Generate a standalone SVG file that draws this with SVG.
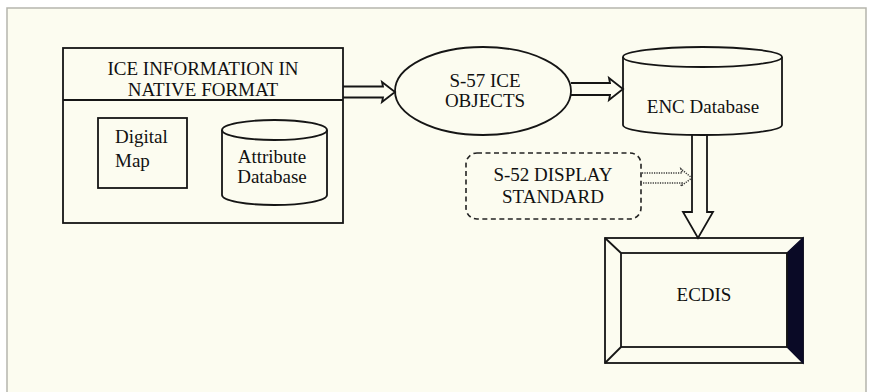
<svg xmlns="http://www.w3.org/2000/svg" width="870" height="392" viewBox="0 0 870 392">
<defs>
<style>
.s{fill:none;stroke:#151515;stroke-width:1.8}
.f{fill:#fcfcf0;stroke:#151515;stroke-width:1.8}
.t{font-family:"Liberation Serif","Times New Roman",serif;font-size:19px;fill:#111;text-anchor:middle}
.l{text-anchor:start}
.d{fill:none;stroke:#333;stroke-width:1.5;stroke-dasharray:1.2 1.2}
</style>
</defs>
<rect x="0" y="0" width="870" height="392" fill="#ffffff"/>
<rect x="7" y="8" width="859" height="390" fill="#fcfcf0" stroke="#b5b5ad" stroke-width="1.5"/>

<g id="ice-info">
<rect class="f" x="63" y="48" width="280" height="175"/>
<line class="s" x1="63" y1="100" x2="343" y2="100"/>
<text class="t" x="203" y="75">ICE INFORMATION IN</text>
<text class="t" x="203" y="96">NATIVE FORMAT</text>
</g>
<g id="digital-map">
<rect class="f" x="98" y="118" width="89" height="70"/>
<text class="t l" x="115" y="143">Digital</text>
<text class="t l" x="115" y="167">Map</text>
</g>
<g id="attribute-db">
<path class="f" d="M222,130 L222,195 A52.5,10 0 0 0 327,195 L327,130"/>
<ellipse class="f" cx="274.5" cy="130" rx="52.5" ry="10"/>
<text class="t" x="272" y="163">Attribute</text>
<text class="t" x="272" y="183">Database</text>
</g>
<g id="s57">
<ellipse class="f" cx="483" cy="91" rx="88" ry="44"/>
<text class="t" x="485" y="87">S-57 ICE</text>
<text class="t" x="485" y="107">OBJECTS</text>
</g>
<g id="enc-db">
<path class="f" d="M623,57 L623,125 A79.5,10 0 0 0 782,125 L782,57"/>
<ellipse class="f" cx="702.5" cy="57" rx="79.5" ry="10"/>
<text class="t" x="703" y="113">ENC Database</text>
</g>
<g id="s52">
<rect x="466" y="153" width="175" height="66" rx="11" ry="11" fill="none" stroke="#222" stroke-width="1.6" stroke-dasharray="5 3.5"/>
<text class="t" x="553" y="181">S-52 DISPLAY</text>
<text class="t" x="553" y="203">STANDARD</text>
</g>
<g id="ecdis">
<rect class="f" x="605" y="238" width="198" height="125"/>
<polygon points="787,253 803,238 803,363 787,347" fill="#0a0a26" stroke="#0a0a26" stroke-width="1.2"/>
<rect class="s" x="621" y="253" width="166" height="94"/>
<line class="s" x1="605" y1="238" x2="621" y2="253"/>
<line class="s" x1="605" y1="363" x2="621" y2="347"/>
<text class="t" x="704" y="301">ECDIS</text>
</g>
<g id="connectors">
<path class="s" d="M343,86.5 L383,86.5 L382,82 L395,92 L382,102 L383,97.5 L343,97.5" fill="#fcfcf0"/>
<path class="s" d="M571,83 L610,83 L609,78 L623,89 L609,100 L610,95 L571,95" fill="#fcfcf0"/>
<path class="s" d="M692,135 L692,212 L683,212 L698,238 L713,212 L707,212 L707,134" fill="#fcfcf0"/>
<path class="d" d="M642,173 L682,173 L681,169 L692,178 L681,186 L682,183 L642,183"/>
</g>
</svg>
